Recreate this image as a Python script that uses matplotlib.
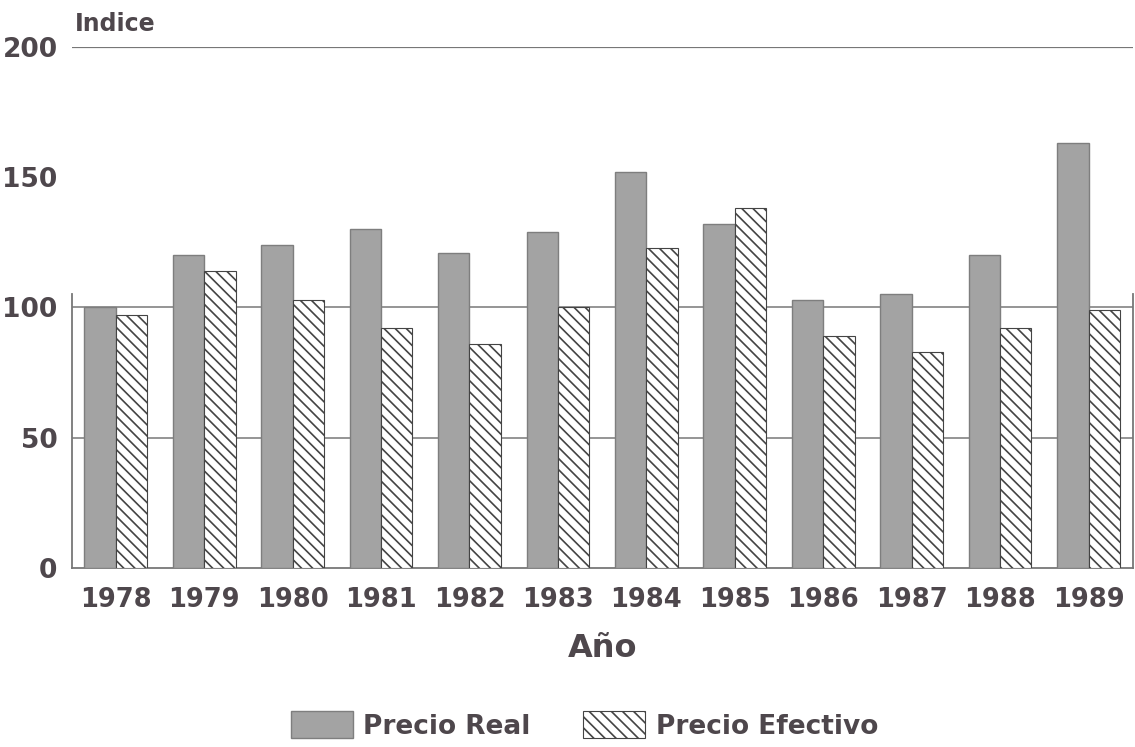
import matplotlib.pyplot as plt
import numpy as np

years = ['1978', '1979', '1980', '1981', '1982', '1983',
         '1984', '1985', '1986', '1987', '1988', '1989']
precio_real = [100, 120, 124, 130, 121, 129, 152, 132, 103, 105, 120, 163]
precio_efectivo = [97, 114, 103, 92, 86, 100, 123, 138, 89, 83, 92, 99]

TXT = '#4e474c'
plt.rcParams['font.family'] = ['DejaVu Sans']
plt.rcParams['hatch.color'] = '#333333'
plt.rcParams['hatch.linewidth'] = 1.2

fig = plt.figure(figsize=(11.35, 7.47), dpi=100)
ax = fig.add_axes([0.063, 0.24, 0.935, 0.697])

x = np.arange(len(years))
w = 0.355
ax.bar(x - w / 2, precio_real, w, color='#a3a3a3', edgecolor='#7e7e7e',
       linewidth=1.0, label='Precio Real', zorder=3)
ax.bar(x + w / 2, precio_efectivo, w, color='white', edgecolor='#444444',
       hatch='\\\\\\', linewidth=0.8, label='Precio Efectivo', zorder=3)

for v in (50, 100):
    ax.axhline(v, color='#8c8c8c', lw=1.3, zorder=1)
ax.axhline(200, color='#777777', lw=1.6, zorder=1)

ax.set_xlim(-0.5, len(years) - 0.5)
ax.set_ylim(0, 200)
ax.set_yticks([0, 50, 100, 150, 200])
ax.set_xticks(x)
ax.set_xticklabels(years)
ax.tick_params(axis='x', length=0, labelsize=18.5, colors=TXT, pad=14)
ax.tick_params(axis='y', length=0, labelsize=19, colors=TXT, pad=10)
for lab in ax.get_xticklabels() + ax.get_yticklabels():
    lab.set_fontweight('bold')

ax.spines['top'].set_visible(False)
for s in ('left', 'right', 'bottom'):
    ax.spines[s].set_color('#777777')
    ax.spines[s].set_linewidth(1.3)
ax.spines['left'].set_bounds(0, 105)
ax.spines['right'].set_bounds(0, 105)

ax.set_xlabel('Año', fontsize=23, fontweight='bold', color=TXT, labelpad=14)
fig.text(0.066, 0.958, 'Indice', fontsize=17, fontweight='bold', color=TXT)

leg = fig.legend(loc='lower center', bbox_to_anchor=(0.515, -0.022), ncol=2,
                 frameon=False, fontsize=19, handlelength=2.35, handleheight=1.2,
                 handletextpad=0.4, columnspacing=2.0)
for t in leg.get_texts():
    t.set_color(TXT)
    t.set_fontweight('bold')

fig.savefig('out.png', dpi=100)
